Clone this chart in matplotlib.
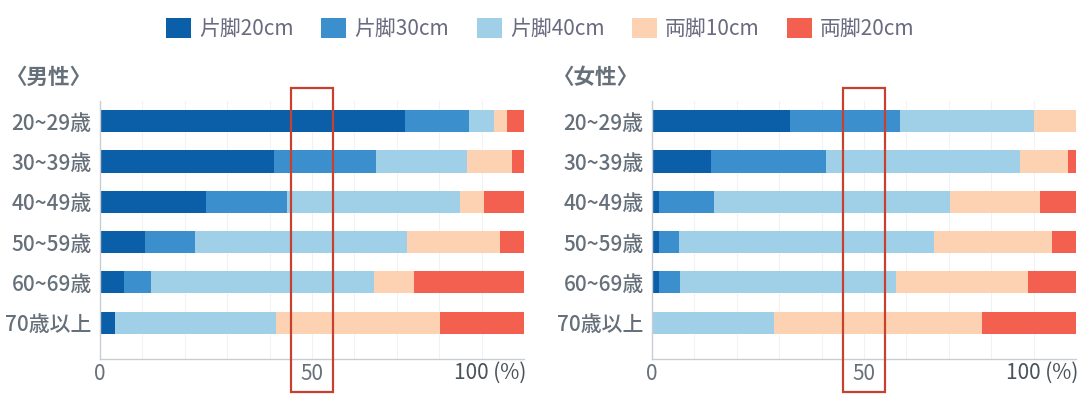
import matplotlib.pyplot as plt
import matplotlib.patches as patches
import matplotlib.transforms as mtransforms
from matplotlib.patches import Patch

plt.rcParams['font.family'] = ['Noto Sans CJK JP', 'DejaVu Sans']

# data (% share per age group)
age_groups = ["20~29歳", "30~39歳", "40~49歳", "50~59歳", "60~69歳", "70歳以上"]
series_names = ["片脚20cm", "片脚30cm", "片脚40cm", "両脚10cm", "両脚20cm"]

male_one20 = [72.0, 41.0, 25.0, 10.6, 5.6, 3.5]
male_one30 = [15.0, 24.0, 19.0, 11.7, 6.5, 0.0]
male_one40 = [6.0, 21.5, 41.0, 50.2, 52.6, 38.0]
male_two10 = [3.0, 10.7, 5.5, 21.8, 9.4, 38.7]
male_two20 = [4.0, 2.8, 9.5, 5.7, 25.9, 19.8]

female_one20 = [32.5, 13.9, 1.6, 1.6, 1.6, 0.0]
female_one30 = [26.0, 27.2, 13.1, 4.7, 4.9, 0.0]
female_one40 = [31.7, 45.6, 55.6, 60.1, 51.1, 28.8]
female_two10 = [9.8, 11.4, 21.1, 28.0, 31.1, 49.1]
female_two20 = [0.0, 1.9, 8.6, 5.6, 11.3, 22.1]

colors = ["#0b5ea8", "#3a8fcc", "#9fd0e8", "#fdd2b3", "#f3604f"]
label_color = "#66707a"
highlight = (45, 55)


def draw_panel(ax, title, series, title_x):
    # faint vertical grid
    for g in range(10, 100, 10):
        ax.axvline(g, color="#f0f2f5", lw=0.8, zorder=0)

    left = [0.0] * len(age_groups)
    y = list(range(len(age_groups)))
    for vals, c in zip(series, colors):
        ax.barh(y, vals, left=left, height=0.55, color=c, zorder=2)
        left = [l + v for l, v in zip(left, vals)]

    ax.set_xlim(0, 100)
    ax.set_ylim(5.9, -0.5)
    ax.set_yticks(y)
    ax.set_yticklabels(age_groups, fontsize=15, color=label_color, fontweight="medium")
    ax.set_xticks([0, 50])
    ax.set_xticklabels(["0", "50"], fontsize=15, color=label_color)
    ax.tick_params(length=0)
    ax.tick_params(axis="x", pad=3)
    ax.tick_params(axis="y", pad=6)
    trans = mtransforms.blended_transform_factory(ax.transData, ax.transAxes)
    ax.text(100.5, -0.012, "100 (%)", transform=trans,
            ha="right", va="top", fontsize=15, color="#4a525a")

    for side in ["top", "right"]:
        ax.spines[side].set_visible(False)
    for side in ["left", "bottom"]:
        ax.spines[side].set_color("#c8cdd2")
        ax.spines[side].set_linewidth(1.0)

    # red highlight box around 50%
    ax.add_patch(
        patches.Rectangle(
            (highlight[0], -0.128),
            highlight[1] - highlight[0],
            1.178,
            transform=trans,
            fill=False,
            edgecolor="#c8412f",
            linewidth=1.6,
            clip_on=False,
            zorder=5,
        )
    )

    ax.figure.text(title_x, 1 - 77 / 394, title, fontsize=15.5, color=label_color,
                   fontweight="bold", va="center", ha="left")


fig = plt.figure(figsize=(10.81, 3.94), dpi=100)
ax_m = fig.add_axes([100 / 1081, 35 / 394, 424 / 1081, 258 / 394])
ax_f = fig.add_axes([652 / 1081, 35 / 394, 424 / 1081, 258 / 394])

draw_panel(ax_m, "〈男性〉", [male_one20, male_one30, male_one40, male_two10, male_two20], 6 / 1081)
draw_panel(ax_f, "〈女性〉", [female_one20, female_one30, female_one40, female_two10, female_two20], 553 / 1081)

handles = [Patch(facecolor=c, edgecolor="none") for c in colors]
fig.legend(handles, series_names, loc="center", bbox_to_anchor=(0.5, 1 - 29 / 394), ncol=5,
           frameon=False, fontsize=15, handlelength=1.2, handleheight=1.1, handletextpad=0.4,
           columnspacing=1.3, labelcolor="#6a6a80")

fig.savefig("out.png", dpi=100)
